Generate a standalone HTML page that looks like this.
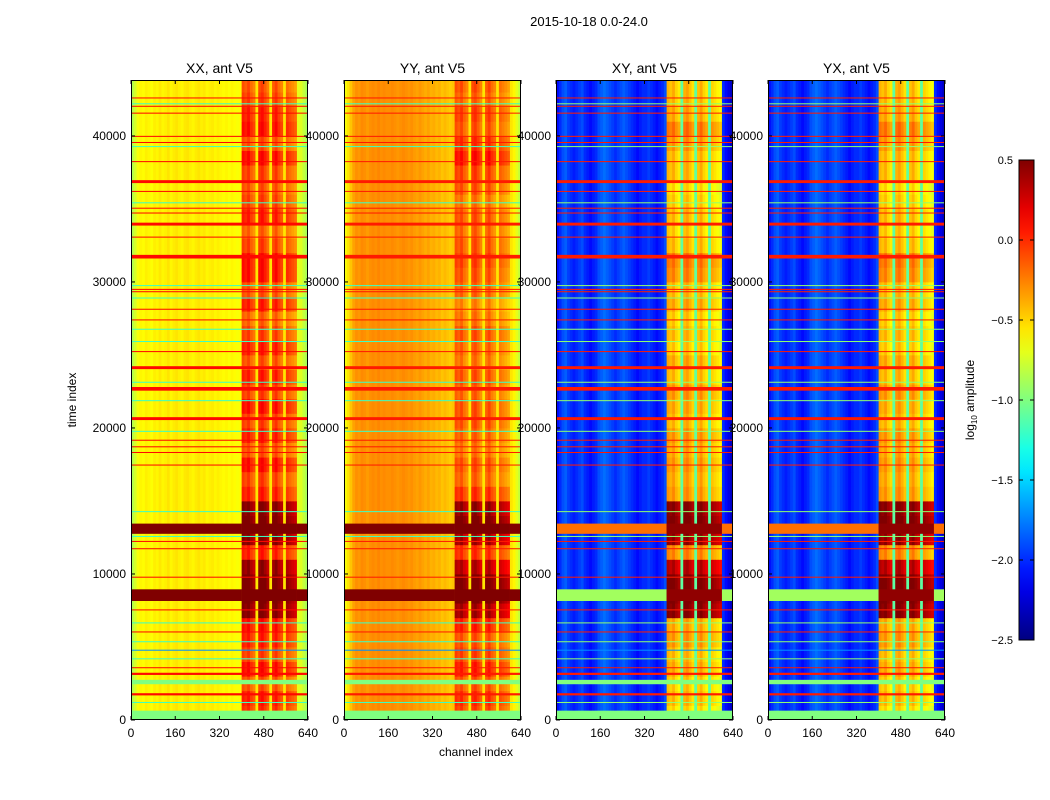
<!DOCTYPE html>
<html><head><meta charset="utf-8"><style>
html,body{margin:0;padding:0;background:#fff;}
svg{display:block;font-family:"Liberation Sans","DejaVu Sans",sans-serif;}
</style></head><body>
<svg id="fig" width="1050" height="800" viewBox="0 0 1050 800" xmlns="http://www.w3.org/2000/svg">
<text x="589" y="26" font-size="13" text-anchor="middle">2015-10-18 0.0-24.0</text>
<text x="476" y="756" font-size="12" text-anchor="middle">channel index</text>
<text transform="translate(76,400) rotate(-90)" font-size="12" text-anchor="middle">time index</text>
<g id="panels"></g>
<g id="cbar"></g>
</svg>
<script>
const titles = ["XX, ant V5","YY, ant V5","XY, ant V5","YX, ant V5"];
const xTicks = [0,160,320,480,640];
const yTicks = [0,10000,20000,30000,40000];
const cbTicks = [0.5,0.0,-0.5,-1.0,-1.5,-2.0,-2.5];
const cbLabels = ["0.5","0.0","\u22120.5","\u22121.0","\u22121.5","\u22122.0","\u22122.5"];
const xxCols = [-0.85,-0.75,-0.65,-0.6,-0.62,-0.58,-0.6,-0.63,-0.58,-0.6,-0.56,-0.6,-0.58,-0.55,-0.6,-0.57,-0.55,-0.58,-0.6,-0.56,-0.55,-0.58,-0.6,-0.57,-0.55,-0.58,-0.56,-0.6,-0.58,-0.57,-0.6,-0.58,-0.6,-0.62,-0.6,-0.63,-0.6,-0.62,-0.64,-0.62,0,0,0,0,0,0,0,0,0,0,0,0,0,0,0,0,0,0,0,0,-0.7,-0.72,-0.8,-0.88];
const yyCols = [-0.65,-0.55,-0.45,-0.35,-0.3,-0.32,-0.28,-0.3,-0.33,-0.3,-0.28,-0.3,-0.27,-0.3,-0.28,-0.3,-0.3,-0.28,-0.3,-0.32,-0.3,-0.28,-0.3,-0.32,-0.3,-0.33,-0.35,-0.32,-0.35,-0.38,-0.35,-0.4,-0.38,-0.42,-0.4,-0.45,-0.42,-0.45,-0.48,-0.45,0,0,0,0,0,0,0,0,0,0,0,0,0,0,0,0,0,0,0,0,-0.55,-0.6,-0.7,-0.8];
const xyCols = [-2.1,-2.0,-1.9,-1.85,-1.95,-2.0,-2.05,-2.0,-1.95,-1.9,-2.0,-2.05,-2.1,-2.05,-2.0,-1.9,-1.85,-1.8,-1.85,-1.9,-1.95,-2.0,-1.95,-1.9,-1.85,-1.9,-1.95,-2.0,-2.05,-2.1,-2.05,-2.0,-2.0,-1.95,-2.0,-2.05,-2.1,-2.05,-2.0,-1.9,0,0,0,0,0,0,0,0,0,0,0,0,0,0,0,0,0,0,0,0,-2.0,-2.1,-2.2,-2.3];
const yxCols = [-2.1,-2.0,-1.9,-1.85,-1.95,-2.0,-2.05,-2.0,-1.95,-1.9,-2.0,-2.05,-2.1,-2.05,-2.0,-1.9,-1.85,-1.8,-1.85,-1.9,-1.95,-2.0,-1.95,-1.9,-1.85,-1.9,-1.95,-2.0,-2.05,-2.1,-2.05,-2.0,-2.0,-1.95,-2.0,-2.05,-2.1,-2.05,-2.0,-1.9,0,0,0,0,0,0,0,0,0,0,0,0,0,0,0,0,0,0,0,0,-2.0,-2.1,-2.2,-2.3];
const bandOffsets = [0.05,0.0,0.08,-0.05,-0.12,null,0.05,0.1,0.0,-0.1,null,0,0.08,-0.05,-0.12,null,-0.05,-0.1,-0.15,-0.2];
const gapVals = [-0.55,-0.55,-1.1,-1.1];
const xxBand = [-0.05,0.0,-0.15,0.05,-0.1,0.0,0.05,0.45,0.5,0.5,0.4,0.0,0.45,0.5,0.45,0.0,-0.1,0.05,-0.15,0.0,-0.1,0.05,-0.1,0.0,-0.15,0.0,-0.1,-0.2,0.0,-0.15,0.05,0.05,-0.1,-0.2,0.0,-0.1,-0.15,-0.1,0.05,-0.15,0.05,0.0,-0.1,-0.15];
const yyBand = [-0.1,-0.05,-0.15,0.0,-0.1,-0.15,0.0,0.35,0.5,0.5,0.3,-0.05,0.35,0.5,0.4,-0.05,-0.2,-0.15,-0.25,-0.2,-0.15,-0.15,-0.2,-0.15,-0.25,-0.2,-0.15,-0.25,-0.3,-0.2,-0.15,-0.1,-0.15,-0.2,-0.15,-0.25,-0.15,-0.1,0.05,-0.05,-0.15,-0.1,-0.2,-0.15];
const xyBand = [-0.55,-0.45,-0.5,-0.4,-0.45,-0.35,-0.4,0.45,0.5,0.5,0.3,-0.3,0.4,0.5,0.45,-0.35,-0.4,-0.35,-0.4,-0.35,-0.45,-0.4,-0.35,-0.45,-0.4,-0.5,-0.45,-0.5,-0.4,-0.45,-0.3,-0.25,-0.45,-0.5,-0.45,-0.5,-0.55,-0.45,-0.45,-0.35,-0.25,-0.4,-0.45,-0.45];
const yxBand = [-0.55,-0.45,-0.5,-0.4,-0.45,-0.35,-0.4,0.45,0.5,0.5,0.3,-0.3,0.4,0.5,0.45,-0.35,-0.4,-0.35,-0.4,-0.35,-0.45,-0.4,-0.35,-0.45,-0.4,-0.5,-0.45,-0.5,-0.4,-0.45,-0.3,-0.25,-0.45,-0.5,-0.45,-0.5,-0.55,-0.45,-0.45,-0.35,-0.25,-0.4,-0.45,-0.45];
const stripeTimes = [42600,42030,41560,39970,39550,38240,36870,36200,35050,34720,33960,33070,31730,29490,29330,28130,27400,25230,24130,22680,20640,19160,18710,18320,17460,12230,11730,9780,7540,6030,3580,3160,1760,
 42200,39270,35420,29750,28900,26760,25920,23130,21870,19770,14270,12570,6650,5360,4190,1200,4780,13100,8550,320,2600];
const stripeSpans = [70,70,70,70,70,70,200,70,70,70,200,70,250,70,70,70,70,70,200,250,200,70,70,70,70,70,70,70,70,70,70,150,150,
 70,70,70,70,70,70,70,70,70,70,70,70,70,70,70,70,70,700,800,640,300];
const stripeKinds = ["r","r","r","r","r","r","r","r","r","r","r","r","r","r","r","r","r","r","r","r","r","r","r","r","r","r","r","r","r","r","r","r","r",
 "c","c","c","c","c","c","c","c","c","c","c","c","c","c","c","c","b","d","e","g","g"];
const kindXX = {r:0.1,c:-1.2,b:-1.7,d:0.5,e:0.5,g:-1.0};
const kindYY = {r:0.05,c:-1.2,b:-1.7,d:0.5,e:0.5,g:-1.0};
const kindXY = {r:0.05,c:-0.95,b:-1.7,d:-0.2,e:-0.9,g:-1.0};
const kindYX = {r:0.05,c:-0.95,b:-1.7,d:-0.2,e:-0.9,g:-1.0};

const panelCols=[xxCols,yyCols,xyCols,yxCols], panelBand=[xxBand,yyBand,xyBand,yxBand], panelKind=[kindXX,kindYY,kindXY,kindYX];
const X0=[131,344,556,768], PW=177, PT=80, PB=720, CH=640, TMAX=43830, VMIN=-2.5, VMAX=0.5;
const NS="http://www.w3.org/2000/svg";
function jet(v){let t=(v-VMIN)/(VMAX-VMIN);t=Math.max(0,Math.min(1,t));
 const c=x=>Math.round(255*Math.max(0,Math.min(1,1.5-Math.abs(4*t-x))));return `rgb(${c(3)},${c(2)},${c(1)})`;}
function xs(p,ch){return X0[p]+ch/CH*PW;}
function ys(t){return PT+(1-t/TMAX)*(PB-PT);}
function mk(tag,attrs,parent){const e=document.createElementNS(NS,tag);for(const k in attrs)e.setAttribute(k,attrs[k]);parent.appendChild(e);return e;}
const panels=document.getElementById('panels');
const defs=mk('defs',{},panels);
for(let p=0;p<4;p++){
 const g=mk('g',{},panels);
 
 
 const cp=mk('clipPath',{id:'cp'+p},defs);mk('rect',{x:X0[p],y:PT,width:PW,height:PB-PT},cp);
 const hm=mk('g',{'clip-path':`url(#cp${p})`},g);
 
 
 const cols=panelCols[p], band=panelBand[p], kv=panelKind[p];
 for(let r=0;r<band.length;r++){
  for(let c=0;c<cols.length;c++){
   let v;
   if(c>=40&&c<60){const o=bandOffsets[c-40];v=(o===null)?gapVals[p]:band[r]+o;}else v=cols[c];
   const x1=xs(p,c*10),x2=xs(p,(c+1)*10),y1=ys((r+1)*1000),y2=ys(r*1000);
   const rc=mk('rect',{x:x1.toFixed(2),y:y1.toFixed(2),width:(x2-x1+0.4).toFixed(2),height:(y2-y1+0.4).toFixed(2),fill:jet(v)},hm);
   
   
  }
 }
 for(let i=0;i<stripeTimes.length;i++){
  const k=stripeKinds[i],v=kv[k],t=stripeTimes[i],w=stripeSpans[i];
  const y1=ys(t+w/2),h=Math.max(1,ys(t-w/2)-y1);
  if(k==='d'||k==='e'){
   const a=mk('rect',{x:xs(p,0),y:y1,width:xs(p,400)-xs(p,0),height:h,fill:jet(v)},hm);
   
   
   const b=mk('rect',{x:xs(p,400),y:y1,width:xs(p,600)-xs(p,400),height:h,fill:jet(Math.max(v,0.45))},hm);
   
   
   const c2=mk('rect',{x:xs(p,600),y:y1,width:xs(p,640)-xs(p,600),height:h,fill:jet(v)},hm);
   
   
  } else {
   const s=mk('rect',{x:xs(p,0),y:y1,width:PW,height:h,fill:jet(v)},hm);
   
   
  }
 }
 const fr=mk('rect',{x:X0[p]+0.5,y:PT+0.5,width:PW-1,height:PB-PT-1,fill:'none',stroke:'#000','stroke-width':1},g);
 
 
 const tt=mk('text',{x:X0[p]+PW/2,y:PT-7,'font-size':14,'text-anchor':'middle'},g);tt.textContent=titles[p];
 
 
 xTicks.forEach(v=>{const x=xs(p,v);
  mk('line',{x1:x,x2:x,y1:PB,y2:PB-4,stroke:'#000'},g);mk('line',{x1:x,x2:x,y1:PT,y2:PT+4,stroke:'#000'},g);
  const l=mk('text',{x:x,y:PB+17,'font-size':12,'text-anchor':'middle'},g);l.textContent=v;
  
  });
 yTicks.forEach(v=>{const y=ys(v);
  mk('line',{x1:X0[p],x2:X0[p]+4,y1:y,y2:y,stroke:'#000'},g);mk('line',{x1:X0[p]+PW,x2:X0[p]+PW-4,y1:y,y2:y,stroke:'#000'},g);
  const l=mk('text',{x:X0[p]-5,y:y+4,'font-size':12,'text-anchor':'end'},g);l.textContent=v;
  
  });
}
const cb=document.getElementById('cbar');
const CX=1019,CW=15,CT=160,CB=640;
const lg=mk('linearGradient',{id:'jetg',x1:0,y1:1,x2:0,y2:0},defs);
for(let i=0;i<=20;i++){const v=VMIN+(VMAX-VMIN)*i/20;mk('stop',{offset:i/20,'stop-color':jet(v)},lg);}
mk('rect',{x:CX,y:CT,width:CW,height:CB-CT,fill:'url(#jetg)',stroke:'#000','stroke-width':1},cb);
cbTicks.forEach((v,i)=>{const y=CT+(VMAX-v)/(VMAX-VMIN)*(CB-CT);
 mk('line',{x1:CX+CW-4,x2:CX+CW,y1:y,y2:y,stroke:'#000'},cb);mk('line',{x1:CX,x2:CX+4,y1:y,y2:y,stroke:'#000'},cb);
 const l=mk('text',{x:CX-6,y:y+4,'font-size':11,'text-anchor':'end'},cb);l.textContent=cbLabels[i];
 
 });
const cl=mk('text',{transform:'translate(974,400) rotate(-90)','font-size':12,'text-anchor':'middle'},cb);
cl.innerHTML='log<tspan font-size="8" dy="3">10</tspan><tspan dy="-3"> amplitude</tspan>';


</script>
</body></html>
